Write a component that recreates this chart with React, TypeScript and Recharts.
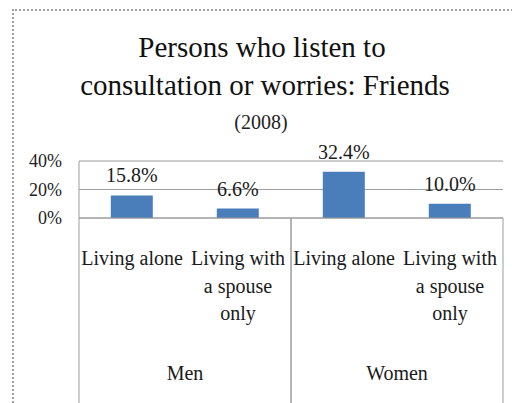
import { Bar, BarChart, CartesianGrid, LabelList, XAxis, YAxis } from 'recharts'

const groups = ['Men', 'Men', 'Women', 'Women']
const categoryLines = [
  ['Living alone'],
  ['Living with', 'a spouse', 'only'],
  ['Living alone'],
  ['Living with', 'a spouse', 'only'],
]
const values = [15.8, 6.6, 32.4, 10.0]
const yTicks = [0, 20, 40]
const titleLines = ['Persons who listen to', 'consultation or worries: Friends']
const subtitle = '(2008)'

const FONT = "'Liberation Serif', 'Times New Roman', serif"
const BAR_COLOR = '#4a7ebb'
const LINE_COLOR = '#9c9c9c'

const data = values.map((v, i) => ({
  key: `${groups[i]}-${i}`,
  group: groups[i],
  value: v,
}))

const textStyle = { fontFamily: FONT }

function CategoryTick(props: any) {
  const { x, y, index } = props
  const lines = categoryLines[index] || []
  return (
    <text x={x} y={y} textAnchor="middle" style={textStyle} fontSize={20} fill="#1a1a1a">
      {lines.map((line, i) => (
        <tspan key={i} x={x} dy={i === 0 ? 47 : 27.5}>
          {line}
        </tspan>
      ))}
    </text>
  )
}

function GroupTick(props: any) {
  const { x, y, payload } = props
  const half = payload.offset ?? 106
  return (
    <g>
      <line x1={x - half} x2={x - half} y1={y - 120} y2={y + 65} stroke={LINE_COLOR} />
      <line x1={x + half} x2={x + half} y1={y - 120} y2={y + 65} stroke={LINE_COLOR} />
      <text x={x} y={y + 42} textAnchor="middle" style={textStyle} fontSize={20} fill="#1a1a1a">
        {payload.value}
      </text>
    </g>
  )
}

export default function App() {
  return (
    <div style={{ position: 'absolute', left: 0, top: 0, width: 512, height: 403, background: '#fff', overflow: 'hidden' }}>
      <div
        style={{
          position: 'absolute',
          left: 12,
          top: 9,
          right: -4,
          bottom: -4,
          borderLeft: '2px dotted #a0a0a0',
          borderTop: '2px dotted #a0a0a0',
        }}
      />
      <svg width={512} height={140} style={{ position: 'absolute', left: 0, top: 0 }}>
        <text x={262} y={57} textAnchor="middle" style={textStyle} fontSize={29} fill="#111">
          {titleLines[0]}
        </text>
        <text x={265} y={95} textAnchor="middle" style={textStyle} fontSize={29} fill="#111">
          {titleLines[1]}
        </text>
        <text x={261} y={129} textAnchor="middle" style={textStyle} fontSize={20} fill="#222">
          {subtitle}
        </text>
      </svg>
      <div style={{ position: 'absolute', left: 0, top: 0 }}>
        <BarChart
          width={512}
          height={403}
          data={data}
          margin={{ top: 161, right: 9, bottom: 0, left: 0 }}
          barCategoryGap="30%"
        >
          <CartesianGrid vertical={false} stroke={LINE_COLOR} />
          <XAxis
            dataKey="key"
            interval={0}
            height={120}
            tickSize={0}
            tickMargin={0}
            tickLine={false}
            axisLine={{ stroke: LINE_COLOR }}
            tick={<CategoryTick />}
          />
          <XAxis
            xAxisId="group"
            dataKey="group"
            allowDuplicatedCategory={false}
            interval={0}
            height={65}
            tickSize={0}
            tickMargin={0}
            tickLine={false}
            axisLine={false}
            tick={<GroupTick />}
          />
          <YAxis
            domain={[0, 40]}
            ticks={yTicks}
            width={79}
            tickSize={0}
            tickMargin={17}
            tickLine={false}
            axisLine={{ stroke: LINE_COLOR }}
            tickFormatter={(v: number) => `${v}%`}
            tick={{ style: textStyle, fontSize: 18, fill: '#222' }}
          />
          <Bar dataKey="value" fill={BAR_COLOR} isAnimationActive={false}>
            <LabelList
              dataKey="value"
              position="top"
              offset={13}
              formatter={(v: any) => `${Number(v).toFixed(1)}%`}
              style={{ ...textStyle, fontSize: 20, fill: '#1a1a1a' }}
            />
          </Bar>
        </BarChart>
      </div>
    </div>
  )
}
